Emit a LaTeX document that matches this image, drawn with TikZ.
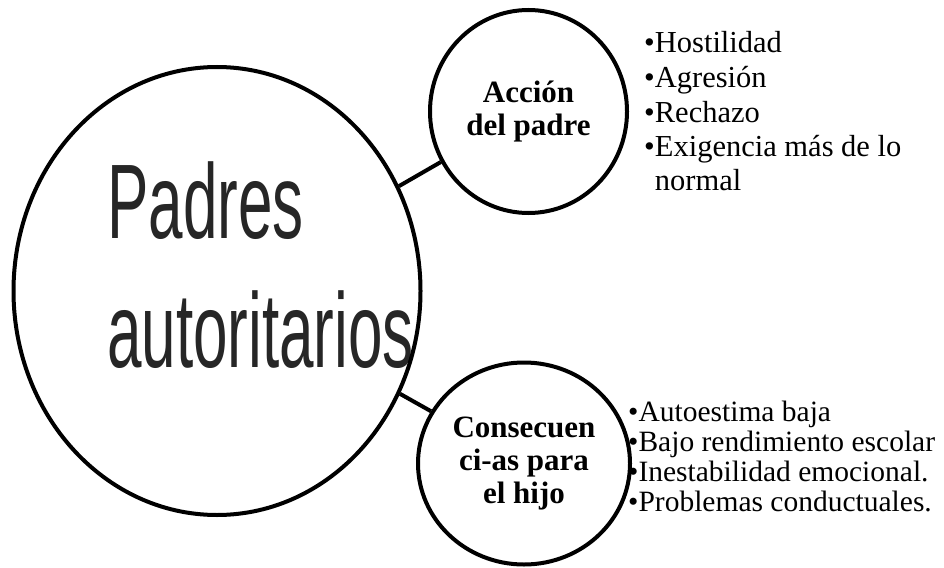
\documentclass[tikz,border=0pt]{standalone}
\usepackage{fontspec}
\usepackage{graphicx}
\setmainfont{Liberation Serif}
\newfontfamily\padresfont{Liberation Sans}
\usetikzlibrary{shapes.geometric,positioning}

\tikzset{
  circulo/.style={ellipse, draw=black, line width=4pt, inner sep=0pt, align=center,
    font=\fontsize{31}{33}\selectfont\bfseries},
  conector/.style={line width=4pt},
  item/.style={anchor=base west, inner sep=0pt, font=\fontsize{29.5}{29.5}\selectfont},
  itemgrande/.style={item, font=\fontsize{30.5}{30.5}\selectfont},
  titulo/.style={anchor=base west, inner sep=0pt, text=black!85,
    font=\padresfont\fontsize{62}{62}\selectfont}
}

\begin{document}
\begin{tikzpicture}[x=1pt,y=-1pt]
    \useasboundingbox (0,0) rectangle (944,567);
    % texto del circulo grande (queda debajo del borde)
    \node[titulo] (tpadres) at (107,238) {\scalebox{1}[1.71]{Padres}};
    \node[titulo] (tautor) at (107,367) {\scalebox{1}[1.71]{autoritarios}};

    % circulos
    \node[circulo, minimum width=407, minimum height=448] (padres) at (217,291) {};
    \node[circulo, minimum width=197, minimum height=203] (accion) at (528.5,111.5) {Acción\\del padre};
    \node[circulo, minimum width=212, minimum height=202] (consec) at (524,463.5) {Consecuen\\ci-as para\\el hijo};

    \draw[conector] (padres) -- (accion);
    \draw[conector] (padres) -- (consec);

    % acciones del padre
    \foreach \t [count=\i from 0] in {Hostilidad,Agresión,Rechazo,Exigencia más de lo} {
        \node[itemgrande] (acc\i) at ({644},{53+34.5*\i}) {•\t};
    }
    \node[itemgrande] (acc4) at (644,190) {\phantom{•}normal};

    % consecuencias
    \foreach \t [count=\i from 0] in {Autoestima baja,Bajo rendimiento escolar,Inestabilidad emocional.,Problemas conductuales.} {
        \node[item] (con\i) at ({628},{421+30*\i}) {•\t};
    }
\end{tikzpicture}
\end{document}
